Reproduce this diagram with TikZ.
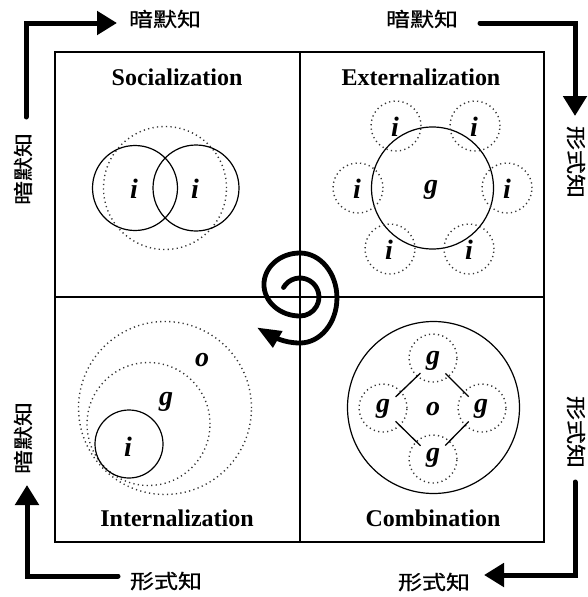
\documentclass[tikz,border=0pt]{standalone}
\usepackage{fontspec}
\usepackage{graphicx}
\setmainfont{Liberation Serif}
\newfontfamily\cjkfam[FakeBold=0.6]{Noto Sans CJK SC}
\usetikzlibrary{arrows.meta}
\newcommand\cjktext[1]{\scalebox{1}[0.83]{\fontsize{24}{28}\selectfont\cjkfam #1}}
\begin{document}
\begin{tikzpicture}[x=1pt,y=-1pt,
  frame/.style={line width=1.3pt},
  solidc/.style={line width=1.2pt},
  dotc/.style={line width=1.4pt, dash pattern=on 1.2pt off 3.3pt, black!80},
  title/.style={font=\fontsize{24}{28}\selectfont\bfseries, inner sep=0pt},
  letter/.style={font=\fontsize{28}{32}\selectfont\bfseries\itshape, inner sep=1pt},
  cjklab/.style={inner sep=0pt},
  bigarrow/.style={line width=5pt, line cap=round, line join=miter, -{Triangle[length=20pt,width=23pt]}},
  spiralline/.style={line width=4.8pt, line cap=round, line join=round, -{Triangle[length=24pt,width=18pt]}},
  conn/.style={line width=1.3pt, shorten >=17.5pt, shorten <=17.5pt}
]
\useasboundingbox (0,0) rectangle (587,597);

% frame
\draw[frame] (55,52) rectangle (544,542);
\draw[frame] (300,52) -- (300,542);
\draw[frame] (55,297) -- (544,297);

% titles
\node[title] (tS) at (177,77) {Socialization};
\node[title] (tE) at (421,77) {Externalization};
\node[title] (tI) at (177,518) {Internalization};
\node[title] (tC) at (433,518) {Combination};

% Socialization
\draw[dotc] (165,188) circle[radius=61.5pt];
\draw[solidc] (135,188) circle[radius=42.5pt];
\draw[solidc] (196,188) circle[radius=43pt];
\node[letter] (s1) at (134,189) {i};
\node[letter] (s2) at (195,189) {i};

% Externalization
\draw[solidc] (432.5,188) circle[radius=61pt];
\foreach \p in {(396,126),(475,126),(358,188),(507,188),(390,249),(469,249)}
  \draw[dotc] \p circle[radius=25pt];
\node[letter] (eg) at (431,190) {g};
\node[letter] (e1) at (395,127) {i};
\node[letter] (e2) at (474,127) {i};
\node[letter] (e3) at (357,189) {i};
\node[letter] (e4) at (507,189) {i};
\node[letter] (e5) at (389,250) {i};
\node[letter] (e6) at (469,250) {i};

% Internalization
\draw[dotc] (165,408) circle[radius=86.5pt];
\draw[dotc] (148.5,424) circle[radius=61.5pt];
\draw[solidc] (129,444) circle[radius=34pt];
\node[letter] (io) at (202,360) {o};
\node[letter] (ig) at (166,402) {g};
\node[letter] (ii) at (128,447) {i};

% Combination
\draw[solidc] (433.5,407.5) circle[radius=86pt];
\foreach \p in {(433,358),(383,408),(482,408),(433,459)}
  \draw[dotc] \p circle[radius=24pt];
\node[letter] (gt) at (433,361) {g};
\node[letter] (gl) at (383,409) {g};
\node[letter] (gr) at (481,409) {g};
\node[letter] (gb) at (433,458) {g};
\node[letter] (co) at (433,409) {o};
\draw[conn] (gt.center) -- (gl.center);
\draw[conn] (gt.center) -- (gr.center);
\draw[conn] (gl.center) -- (gb.center);
\draw[conn] (gr.center) -- (gb.center);

% spiral
\draw[spiralline] (283.5,287.5)
  arc[start angle=150, end angle=-90, radius=19pt]
  arc[start angle=-90, end angle=-270, x radius=36pt, y radius=31.5pt]
  arc[start angle=90, end angle=-90, x radius=37pt, y radius=45pt]
  arc[start angle=-90, end angle=-120, radius=60pt]
  -- ++(-13,-7.5);

% labels
\node[cjklab] (lt1) at (165,19) {\cjktext{暗默知}};
\node[cjklab] (lt2) at (422,19) {\cjktext{暗默知}};
\node[cjklab, rotate=90] (ll1) at (23,169) {\cjktext{暗默知}};
\node[cjklab, rotate=90] (ll2) at (23,438) {\cjktext{暗默知}};
\node[cjklab, rotate=-90] (lr1) at (576,162) {\cjktext{形式知}};
\node[cjklab, rotate=-90] (lr2) at (576,432) {\cjktext{形式知}};
\node[cjklab] (lb1) at (166,581) {\cjktext{形式知}};
\node[cjklab] (lb2) at (434,582) {\cjktext{形式知}};

% corner arrows
\coordinate (a1s) at (26,117); \coordinate (a1c) at (26,23); \coordinate (a1e) at (117,23);
\coordinate (a2s) at (480,23); \coordinate (a2c) at (575,23); \coordinate (a2e) at (575,116);
\coordinate (a3s) at (575,482); \coordinate (a3c) at (575,575); \coordinate (a3e) at (484,575);
\coordinate (a4s) at (118,576); \coordinate (a4c) at (27,576); \coordinate (a4e) at (27,485);
\draw[bigarrow] (a1s) -- (a1c) -- (a1e);
\draw[bigarrow] (a2s) -- (a2c) -- (a2e);
\draw[bigarrow] (a3s) -- (a3c) -- (a3e);
\draw[bigarrow] (a4s) -- (a4c) -- (a4e);
\end{tikzpicture}
\end{document}
